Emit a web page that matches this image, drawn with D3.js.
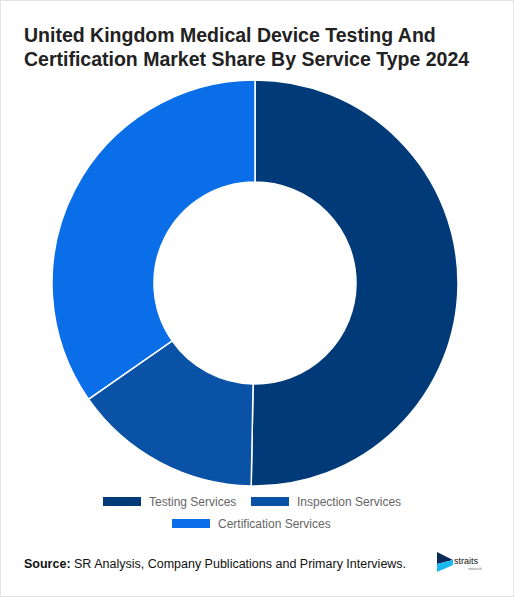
<!DOCTYPE html>
<html>
<head>
<meta charset="UTF-8">
<script src="https://d3js.org/d3.v7.min.js"></script>
<style>
  body { margin: 0; background: #fff; font-family: "Liberation Sans", Arial, sans-serif; }
</style>
</head>
<body>
<div id="chart"></div>
<script>
var categories = ["Testing Services", "Inspection Services", "Certification Services"];
var shares = [50.3, 15.0, 34.7];
var colors = ["#003a78", "#0a52a6", "#0a6ee8"];

var W = 514, H = 597;
var svg = d3.select("#chart").append("svg").attr("width", W).attr("height", H);

svg.append("rect").attr("x", 0.5).attr("y", 0.5).attr("width", W - 1).attr("height", H - 1)
  .attr("fill", "#fff").attr("stroke", "#e3e3e3");

svg.append("text").attr("x", 24).attr("y", 42).attr("font-size", 19.5).attr("font-weight", "bold")
  .attr("fill", "#222").text("United Kingdom Medical Device Testing And");
svg.append("text").attr("x", 24).attr("y", 66).attr("font-size", 19.5).attr("font-weight", "bold")
  .attr("fill", "#222").text("Certification Market Share By Service Type 2024");

var pie = d3.pie().sort(null).value(function(d) { return d; });
var arc = d3.arc().innerRadius(101).outerRadius(203);

var g = svg.append("g").attr("transform", "translate(255,283)");
g.selectAll("path").data(pie(shares)).enter().append("path")
  .attr("d", arc)
  .attr("fill", function(d, i) { return colors[i]; })
  .attr("stroke", "#fff").attr("stroke-width", 1.5);

var legendPos = [[103, 497], [251, 497], [172, 519]];
categories.forEach(function(c, i) {
  var p = legendPos[i];
  svg.append("rect").attr("x", p[0]).attr("y", p[1]).attr("width", 38).attr("height", 9)
    .attr("fill", colors[i]);
  svg.append("text").attr("x", p[0] + 46).attr("y", p[1] + 9).attr("font-size", 12)
    .attr("fill", "#666").text(c);
});

var src = svg.append("text").attr("x", 24).attr("y", 568).attr("font-size", 12.5).attr("fill", "#111");
src.append("tspan").attr("font-weight", "bold").text("Source: ");
src.append("tspan").text("SR Analysis, Company Publications and Primary Interviews.");

// logo
var lg = svg.append("g").attr("transform", "translate(437,552)");
lg.append("path").attr("d", "M0,0 L16,8 L0,12 Z").attr("fill", "#0a2a5a");
lg.append("path").attr("d", "M0,12 L16,8 L16,13 L0,20 Z").attr("fill", "#19b8f0");
lg.append("text").attr("x", 17).attr("y", 12).attr("font-size", 9).attr("fill", "#111").text("straits");
lg.append("text").attr("x", 31).attr("y", 18).attr("font-size", 3.5).attr("fill", "#666").text("research");
</script>
</body>
</html>
